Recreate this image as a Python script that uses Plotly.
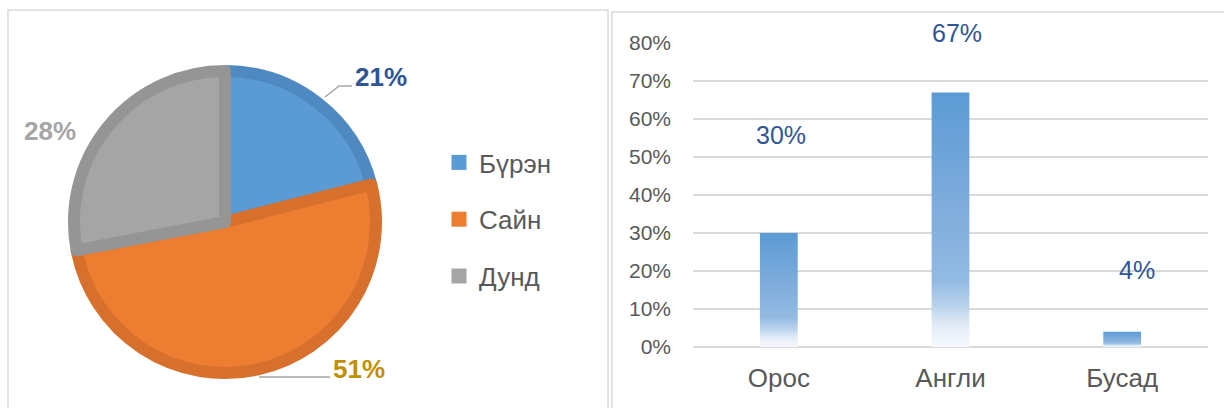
import plotly.graph_objects as go

# ---------------- data ----------------
pie_labels = ["Бүрэн", "Сайн", "Дунд"]
pie_values = [21, 51, 28]

bar_categories = ["Орос", "Англи", "Бусад"]
bar_values = [0.30, 0.67, 0.04]

y_ticks = [0, 0.1, 0.2, 0.3, 0.4, 0.5, 0.6, 0.7, 0.8]

# ---------------- style ----------------
W, H = 1224, 408
FONT = "Liberation Sans, Arial, sans-serif"
pie_fill = ["#5B9BD5", "#ED7D31", "#A5A5A5"]
pie_edge = ["#4F89C2", "#D7702C", "#959595"]
pie_label_color = ["#2F5597", "#BF9000", "#A5A5A5"]
# label centre positions in pixels (decoration placement)
pie_label_px = [(381, 77), (359, 369), (50, 131)]
bar_label_shift = [(2, 98), (6, 59), (15, 62)]
BAR_HALF = 0.11
bar_scale = [[0.0, "#F6F9FD"], [0.08, "#E4EDF8"], [0.17, "#B6D0EC"],
             [0.26, "#93BAE2"], [0.6, "#7BAADB"], [1.0, "#5B9BD5"]]


def px(x, y):
    return x / W, 1 - y / H


fig = go.Figure()

# pie
pcx, pcy, pr = 225, 222, 151
x0, y1 = px(pcx - pr, pcy - pr)
x1, y0 = px(pcx + pr, pcy + pr)
fig.add_trace(go.Pie(
    labels=pie_labels, values=pie_values, sort=False, direction="clockwise",
    rotation=0, domain=dict(x=[x0, x1], y=[y0, y1]),
    marker=dict(colors=pie_fill, line=dict(color=pie_edge, width=12)),
    textinfo="none", hoverinfo="skip", showlegend=False,
))

# legend entries for pie slices
for i, lab in enumerate(pie_labels):
    fig.add_trace(go.Scatter(
        x=[None], y=[None], mode="markers", name=lab, legendgroup=lab,
        marker=dict(symbol="square", size=15, color=pie_fill[i]),
        showlegend=True, hoverinfo="skip",
    ))

# pie value labels
for i, v in enumerate(pie_values):
    lx, ly = px(*pie_label_px[i])
    fig.add_annotation(x=lx, y=ly, xref="paper", yref="paper", text=f"<b>{v}%</b>",
                       xanchor="center", yanchor="middle", showarrow=False,
                       font=dict(family=FONT, size=26, color=pie_label_color[i]))

# leader lines
def path_px(points):
    d = ""
    for k, (a, b) in enumerate(points):
        xx, yy = px(a, b)
        d += ("M" if k == 0 else "L") + f"{xx},{yy} "
    return d

fig.add_shape(type="path", xref="paper", yref="paper",
              path=path_px([(325, 97), (339, 86), (352, 86)]),
              line=dict(color="#A6A6A6", width=1.5))
fig.add_shape(type="path", xref="paper", yref="paper",
              path=path_px([(259, 377), (330, 377)]),
              line=dict(color="#A6A6A6", width=1.5))

# bars with vertical gradient
for i, v in enumerate(bar_values):
    fig.add_trace(go.Scatter(
        x=[i - BAR_HALF, i + BAR_HALF, i + BAR_HALF, i - BAR_HALF, i - BAR_HALF],
        y=[0, 0, v, v, 0], mode="none", fill="toself",
        fillgradient=dict(type="vertical", colorscale=bar_scale, start=0, stop=v),
        showlegend=False, hoverinfo="skip", xaxis="x", yaxis="y",
    ))
    dx, dy = bar_label_shift[i]
    fig.add_annotation(x=i, y=v, xref="x", yref="y", text=f"{round(v * 100)}%",
                       showarrow=False, xshift=dx, yshift=dy,
                       font=dict(family=FONT, size=25, color="#2F5597"))

# panel borders
fig.add_shape(type="rect", xref="paper", yref="paper",
              x0=8 / W, x1=608 / W, y0=-0.1, y1=1 - 10 / H,
              line=dict(color="#D9D9D9", width=1.5))
fig.add_shape(type="rect", xref="paper", yref="paper",
              x0=612 / W, x1=1.1, y0=-0.1, y1=1 - 12 / H,
              line=dict(color="#D9D9D9", width=1.5))

fig.update_layout(
    width=W, height=H, margin=dict(l=0, r=0, t=0, b=0, autoexpand=False),
    paper_bgcolor="white", plot_bgcolor="white",
    font=dict(family=FONT, color="#595959"),
    legend=dict(x=439 / W, y=1 - 139 / H, xanchor="left", yanchor="top",
                font=dict(family=FONT, size=26, color="#595959"),
                tracegroupgap=20, itemsizing="trace", bgcolor="rgba(0,0,0,0)"),
    xaxis=dict(domain=[693 / W, 1208 / W], range=[-0.5, 2.5],
               tickvals=list(range(len(bar_categories))), ticktext=bar_categories,
               showgrid=False, zeroline=False, showline=False, ticks="",
               tickfont=dict(family=FONT, size=26, color="#595959"),
               ticklabelstandoff=13, fixedrange=True, automargin=False),
    yaxis=dict(domain=[1 - 347 / H, 1 - 43 / H], range=[0, 0.8],
               tickvals=y_ticks, tickformat=".0%",
               showgrid=True, gridcolor="#D9D9D9", gridwidth=1.5,
               zeroline=True, zerolinecolor="#D9D9D9", zerolinewidth=1.5,
               showline=False, ticks="",
               tickfont=dict(family=FONT, size=21, color="#595959"),
               ticklabelstandoff=21, fixedrange=True, automargin=False),
)

fig.write_html("out.html", config={"displayModeBar": False},
               post_script="document.body.style.margin='0';")
